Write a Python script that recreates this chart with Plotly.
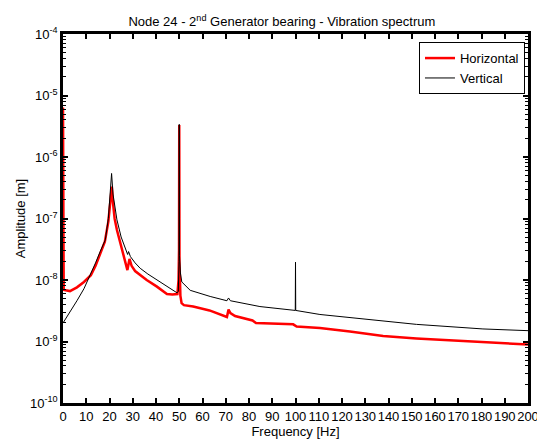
import plotly.graph_objects as go

# Horizontal (red) spectrum
h_freq = [0.0, 0.3, 3, 6, 9, 12, 14, 16, 18, 19.5, 20.5, 21.0, 21.5, 22.2, 23.2, 25, 26.5, 27.7,
          28.6, 29.5, 31, 33.2, 36, 40.4, 44.7, 47, 49.2, 49.7, 49.9, 50.0, 50.1, 50.5, 51.0, 52,
          56, 63, 70.5, 71.2, 72, 74, 81.5, 83, 99, 100.5, 110.5, 123.4, 137.7, 152, 166, 180.6, 200]
h_amp = [6.4e-6, 6.9e-9, 6.6e-9, 7.6e-9, 9.3e-9, 1.2e-8, 1.7e-8, 2.6e-8, 4.2e-8, 8.9e-8, 2.0e-7,
         3.3e-7, 1.8e-7, 1.0e-7, 6.5e-8, 3.6e-8, 2.3e-8, 1.45e-8, 2.2e-8, 1.7e-8, 1.4e-8, 1.2e-8,
         1.0e-8, 7.8e-9, 5.9e-9, 5.8e-9, 5.9e-9, 1.0e-8, 3.0e-8, 3.3e-6, 2.0e-8, 5.5e-9, 4.2e-9,
         3.9e-9, 3.7e-9, 3.2e-9, 2.5e-9, 3.3e-9, 2.9e-9, 2.6e-9, 2.2e-9, 2.0e-9, 1.9e-9, 1.75e-9,
         1.65e-9, 1.45e-9, 1.23e-9, 1.12e-9, 1.05e-9, 1.0e-9, 8.9e-10]

# Vertical (black) spectrum
v_freq = [0, 3, 6, 9, 11.7, 14, 16, 18.2, 19.5, 20.3, 20.9, 21.5, 22.2, 23.2, 25, 27, 27.8, 28.2,
          29, 31, 33.2, 36.5, 40.4, 45, 49.0, 49.6, 49.9, 50.0, 50.1, 50.5, 51.1, 54.7, 63.3, 70.5,
          71.2, 72, 84.7, 99.9, 100.0, 100.1, 110.5, 123.4, 152, 180.6, 200]
v_amp = [2.0e-9, 3.0e-9, 4.6e-9, 7.2e-9, 1.2e-8, 1.9e-8, 2.9e-8, 4.5e-8, 1.0e-7, 2.5e-7, 5.4e-7,
         2.5e-7, 1.6e-7, 9.5e-8, 5.0e-8, 3.2e-8, 2.6e-8, 2.9e-8, 2.4e-8, 1.9e-8, 1.55e-8, 1.25e-8,
         1.0e-8, 7.6e-9, 6.2e-9, 6.5e-9, 2.0e-8, 3.4e-6, 2.5e-8, 1.3e-8, 9.3e-9, 6.8e-9, 5.4e-9,
         4.6e-9, 5.1e-9, 4.6e-9, 3.7e-9, 3.2e-9, 1.95e-8, 3.2e-9, 2.75e-9, 2.45e-9, 1.9e-9, 1.6e-9,
         1.5e-9]

x_ticks = list(range(0, 201, 10))
y_ticks = [1e-10, 1e-9, 1e-8, 1e-7, 1e-6, 1e-5, 1e-4]
y_labels = ['10<sup>%d</sup>' % e for e in range(-10, -3)]
y_minor = [m * 10.0 ** e for e in range(-10, -4) for m in range(2, 10)]

font = 'Arial, Liberation Sans, sans-serif'

fig = go.Figure()
fig.add_trace(go.Scatter(x=h_freq, y=h_amp, mode='lines', name='Horizontal',
                         line=dict(color='#ff0000', width=2.5)))
fig.add_trace(go.Scatter(x=v_freq, y=v_amp, mode='lines', name='Vertical',
                         line=dict(color='black', width=1)))

# the page body adds an 8px margin, so the figure is a bit smaller than the window
fig.update_layout(
    width=537, height=431,
    margin=dict(l=55, r=17, t=26, b=36),
    paper_bgcolor='white', plot_bgcolor='white',
    font=dict(family=font, size=13, color='black'),
    title=dict(text='Node 24 - 2<sup>nd</sup> Generator bearing - Vibration spectrum',
               x=0.51, xanchor='center', y=0.958, yanchor='bottom',
               font=dict(size=13)),
    legend=dict(x=0.9935, xanchor='right', y=0.978, yanchor='top',
                bordercolor='black', borderwidth=1, bgcolor='white',
                font=dict(size=13), itemwidth=30, tracegroupgap=0),
    showlegend=True,
)

fig.update_xaxes(range=[0, 200], tickvals=x_ticks, ticktext=[str(t) for t in x_ticks],
                 tickangle=0,
                 ticks='inside', ticklen=5, tickwidth=1.5, tickcolor='black',
                 showline=True, linecolor='black', linewidth=2.5, mirror='ticks',
                 showgrid=False, zeroline=False, tickfont=dict(size=13), automargin=False,
                 title=dict(text='Frequency [Hz]', font=dict(size=13), standoff=0))
fig.update_yaxes(type='log', range=[-10, -4], tickvals=y_ticks, ticktext=y_labels,
                 ticks='inside', ticklen=5, tickwidth=1.5, tickcolor='black',
                 minor=dict(tickmode='array', tickvals=y_minor, ticks='inside',
                            ticklen=3, tickwidth=1, tickcolor='black', showgrid=False),
                 showline=True, linecolor='black', linewidth=2.5, mirror='ticks',
                 showgrid=False, zeroline=False, tickfont=dict(size=13), automargin=False,
                 title=dict(text='Amplitude [m]', font=dict(size=13), standoff=2))

fig.write_html("out.html")
